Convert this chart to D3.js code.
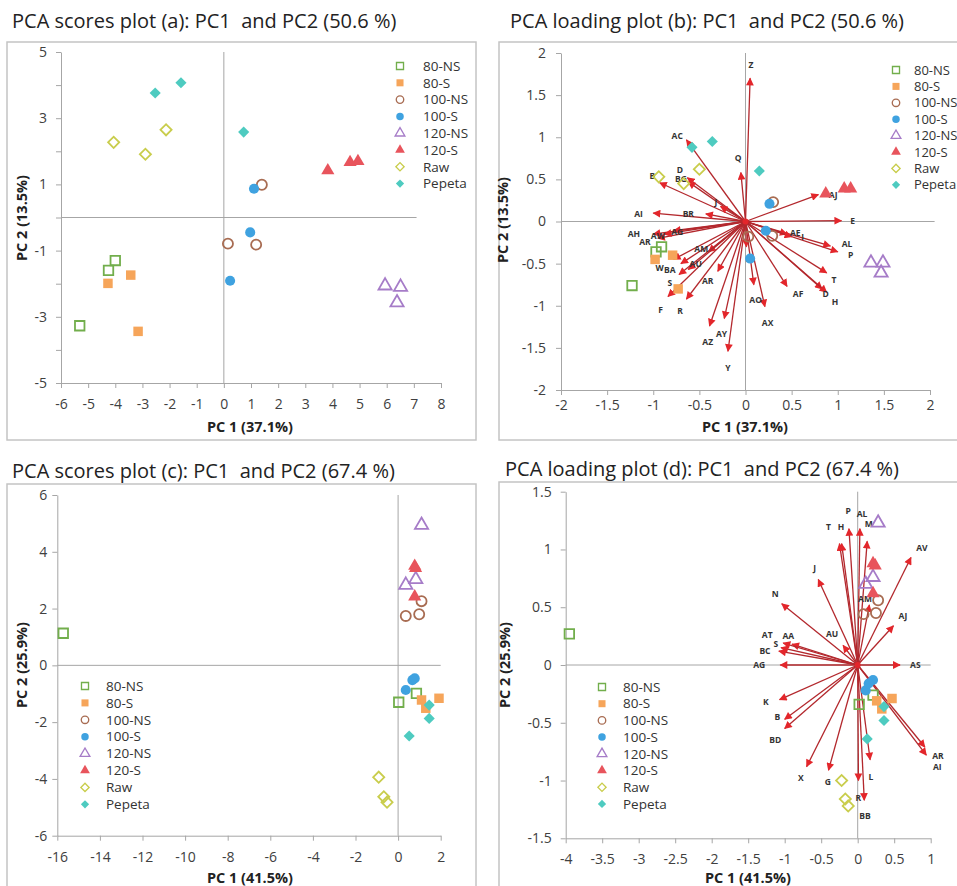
<!DOCTYPE html>
<html>
<head>
<meta charset="utf-8">
<script src="https://cdn.jsdelivr.net/npm/d3@7"></script>
<style>
  body { margin: 0; background: #fff; }
  text { font-family: "Open Sans", sans-serif; }
</style>
</head>
<body>
<svg id="chart" width="957" height="886"></svg>
<script>
// sample groups, shared by all four panels
const groups = ["80-NS", "80-S", "100-NS", "100-S", "120-NS", "120-S", "Raw", "Pepeta"];
const groupColors = ["#72ae4c", "#f6a55a", "#a86c52", "#3fa2e0", "#a67cc8", "#e8545c", "#c9cd4c", "#4ecbc0"];
const groupShapes = ["square", "square", "circle", "circle", "triangle", "triangle", "diamond", "diamond"];
const groupFilled = [false, true, false, true, false, true, false, true];

// (a) scores, PC1 vs PC2
const scoresA = [
  ["80-NS", -4.0, -1.3], ["80-NS", -4.25, -1.6], ["80-NS", -5.31, -3.27],
  ["80-S", -3.43, -1.74], ["80-S", -4.27, -1.99], ["80-S", -3.16, -3.44],
  ["100-NS", 1.40, 0.99], ["100-NS", 0.15, -0.79], ["100-NS", 1.19, -0.82],
  ["100-S", 1.11, 0.87], ["100-S", 0.97, -0.45], ["100-S", 0.23, -1.91],
  ["120-NS", 5.94, -2.06], ["120-NS", 6.51, -2.10], ["120-NS", 6.38, -2.57],
  ["120-S", 3.83, 1.42], ["120-S", 4.65, 1.67], ["120-S", 4.94, 1.70],
  ["Raw", -4.06, 2.27], ["Raw", -2.89, 1.91], ["Raw", -2.13, 2.65],
  ["Pepeta", -2.53, 3.76], ["Pepeta", -1.58, 4.07], ["Pepeta", 0.73, 2.58]
];

// (b) scaled scores
const scoresB = [
  ["80-NS", -0.91, -0.30], ["80-NS", -0.97, -0.36], ["80-NS", -1.23, -0.76],
  ["80-S", -0.79, -0.40], ["80-S", -0.98, -0.45], ["80-S", -0.73, -0.80],
  ["100-NS", 0.30, 0.23], ["100-NS", 0.03, -0.18], ["100-NS", 0.29, -0.17],
  ["100-S", 0.26, 0.21], ["100-S", 0.22, -0.11], ["100-S", 0.05, -0.44],
  ["120-NS", 1.36, -0.49], ["120-NS", 1.49, -0.49], ["120-NS", 1.47, -0.61],
  ["120-S", 0.87, 0.33], ["120-S", 1.07, 0.39], ["120-S", 1.14, 0.39],
  ["Raw", -0.94, 0.53], ["Raw", -0.67, 0.45], ["Raw", -0.50, 0.62],
  ["Pepeta", -0.58, 0.88], ["Pepeta", -0.36, 0.95], ["Pepeta", 0.15, 0.60]
];

// (b) loadings: variable, tip x, tip y, label x, label y
const loadingsB = [
  ["Z", 0.05, 1.70, 0.06, 1.86], ["Q", -0.05, 0.58, -0.08, 0.75],
  ["AC", -0.64, 0.97, -0.74, 1.02], ["B", -0.93, 0.46, -1.01, 0.54],
  ["D", -0.63, 0.52, -0.71, 0.61], ["BG", -0.62, 0.47, -0.70, 0.50],
  ["J", -0.27, 0.18, -0.32, 0.23], ["AI", -1.00, 0.10, -1.16, 0.09],
  ["BR", -0.43, 0.09, -0.62, 0.09], ["AH", -1.00, -0.15, -1.21, -0.15],
  ["AR", -0.95, -0.20, -1.09, -0.24], ["AW", -0.88, -0.15, -0.95, -0.17],
  ["AG", -0.78, -0.11, -0.74, -0.12], ["AM", -0.40, -0.36, -0.48, -0.33],
  ["W", -0.78, -0.45, -0.93, -0.55], ["BA", -0.70, -0.50, -0.82, -0.58],
  ["AU", -0.62, -0.57, -0.54, -0.50], ["AR", -0.30, -0.59, -0.41, -0.71],
  ["S", -0.72, -0.63, -0.82, -0.73], ["F", -0.84, -0.89, -0.92, -1.05],
  ["R", -0.64, -0.92, -0.71, -1.06], ["AZ", -0.39, -1.24, -0.41, -1.43],
  ["AY", -0.23, -1.15, -0.26, -1.33], ["Y", -0.19, -1.54, -0.19, -1.74],
  ["A", 0.01, -0.30, 0.04, -0.45], ["AO", 0.09, -0.75, 0.11, -0.93],
  ["AX", 0.21, -1.01, 0.24, -1.21], ["AF", 0.45, -0.77, 0.57, -0.86],
  ["D", 0.83, -0.80, 0.87, -0.86], ["H", 0.88, -0.84, 0.97, -0.95],
  ["T", 0.88, -0.61, 0.96, -0.69], ["AL", 1.00, -0.36, 1.10, -0.27],
  ["P", 0.92, -0.29, 1.14, -0.40], ["AE", 0.45, -0.15, 0.54, -0.14],
  ["I", 0.50, -0.18, 0.62, -0.18], ["E", 1.04, 0.01, 1.16, 0.0],
  ["AJ", 0.79, 0.32, 0.95, 0.32]
];

// (c) scores
const scoresC = [
  ["80-NS", -15.72, 1.13], ["80-NS", 0.03, -1.30], ["80-NS", 0.86, -0.99],
  ["80-S", 1.10, -1.22], ["80-S", 1.92, -1.16], ["80-S", 1.30, -1.51],
  ["100-NS", 0.36, 1.74], ["100-NS", 0.99, 1.80], ["100-NS", 1.10, 2.26],
  ["100-S", 0.36, -0.87], ["100-S", 0.67, -0.52], ["100-S", 0.78, -0.46],
  ["120-NS", 1.10, 4.94], ["120-NS", 0.36, 2.83], ["120-NS", 0.83, 3.03],
  ["120-S", 0.78, 3.50], ["120-S", 0.82, 3.42], ["120-S", 0.78, 2.42],
  ["Raw", -0.91, -3.94], ["Raw", -0.67, -4.63], ["Raw", -0.52, -4.82],
  ["Pepeta", 0.52, -2.49], ["Pepeta", 1.46, -1.87], ["Pepeta", 1.46, -1.40]
];

// (d) scaled scores
const scoresD = [
  ["80-NS", -3.95, 0.27], ["80-NS", 0.02, -0.34], ["80-NS", 0.21, -0.26],
  ["80-S", 0.26, -0.31], ["80-S", 0.47, -0.29], ["80-S", 0.33, -0.38],
  ["100-NS", 0.25, 0.45], ["100-NS", 0.08, 0.44], ["100-NS", 0.28, 0.56],
  ["100-S", 0.21, -0.13], ["100-S", 0.11, -0.22], ["100-S", 0.15, -0.16],
  ["120-NS", 0.28, 1.23], ["120-NS", 0.11, 0.70], ["120-NS", 0.21, 0.76],
  ["120-S", 0.21, 0.88], ["120-S", 0.24, 0.86], ["120-S", 0.21, 0.62],
  ["Raw", -0.22, -1.00], ["Raw", -0.17, -1.16], ["Raw", -0.13, -1.22],
  ["Pepeta", 0.13, -0.64], ["Pepeta", 0.36, -0.36], ["Pepeta", 0.36, -0.48]
];

// (d) loadings: variable, tip x, tip y, label x, label y
const loadingsD = [
  ["P", -0.12, 1.18, -0.13, 1.33], ["AL", 0.03, 1.18, 0.06, 1.31],
  ["M", 0.13, 1.07, 0.15, 1.22], ["T", -0.25, 1.05, -0.40, 1.19],
  ["H", -0.22, 1.05, -0.23, 1.19], ["J", -0.54, 0.74, -0.59, 0.84],
  ["N", -1.04, 0.53, -1.13, 0.61], ["AU", -0.20, 0.17, -0.35, 0.27],
  ["AA", -0.90, 0.18, -0.95, 0.25], ["AT", -1.02, 0.19, -1.24, 0.26],
  ["S", -1.05, 0.15, -1.12, 0.18], ["BC", -1.08, 0.12, -1.27, 0.12],
  ["AG", -1.06, 0.0, -1.35, 0.0], ["AS", 0.58, 0.0, 0.79, 0.0],
  ["AJ", 0.49, 0.34, 0.62, 0.42], ["AV", 0.73, 0.93, 0.88, 1.01],
  ["AM", 0.16, 0.52, 0.10, 0.57], ["K", -1.07, -0.30, -1.26, -0.32],
  ["B", -1.00, -0.47, -1.10, -0.45], ["BD", -1.00, -0.55, -1.13, -0.65],
  ["X", -0.70, -0.88, -0.78, -0.98], ["G", -0.40, -0.91, -0.41, -1.01],
  ["R", 0.01, -1.00, 0.01, -1.15], ["BB", 0.09, -1.17, 0.10, -1.31],
  ["L", 0.17, -0.82, 0.18, -0.97], ["AR", 0.92, -0.71, 1.10, -0.79],
  ["AI", 0.94, -0.78, 1.09, -0.88]
];

// axis ticks
const ticksAx = d3.range(-6, 9, 1);
const ticksAy = d3.range(-5, 6, 1);
const labelsAy = [-5, -3, -1, 1, 3, 5];
const ticksBx = d3.range(-2, 2.01, 0.5);
const ticksBy = d3.range(-2, 2.01, 0.5);
const ticksCx = d3.range(-16, 3, 2);
const ticksCy = d3.range(-6, 7, 2);
const ticksDx = d3.range(-4, 1.01, 0.5);
const ticksDy = d3.range(-1.5, 1.51, 0.5);

const svg = d3.select("#chart");

// arrow head for loading vectors
svg.append("defs").append("marker")
    .attr("id", "head")
    .attr("viewBox", "0 0 10 10")
    .attr("refX", 9).attr("refY", 5)
    .attr("markerWidth", 6.5).attr("markerHeight", 6)
    .attr("orient", "auto")
  .append("path")
    .attr("d", "M0,0L10,5L0,10z")
    .attr("fill", "#e3262b");

function symbolPath(i, scale) {
    let shape = groupShapes[i];
    let type = {square: d3.symbolSquare, circle: d3.symbolCircle, triangle: d3.symbolTriangle, diamond: d3.symbolSquare}[shape];
    let size = {square: 90, circle: 80, triangle: 75, diamond: 62}[shape] * scale;
    return d3.symbol().type(type).size(size)();
}

function drawMarker(g, gi, px, py, scale) {
    let hollow = !groupFilled[gi];
    g.append("path")
        .attr("d", symbolPath(gi, scale))
        .attr("transform", "translate(" + px + "," + py + ")" + (groupShapes[gi] == "diamond" ? " rotate(45)" : ""))
        .attr("fill", hollow ? "none" : groupColors[gi])
        .attr("stroke", groupColors[gi])
        .attr("stroke-width", hollow ? 1.8 * Math.sqrt(scale) : 0);
}

const fmt = d => String(Math.round(d * 10) / 10);

function drawPanel(p) {
    let g = svg.append("g");

    //frame
    g.append("rect")
        .attr("x", p.frame[0]).attr("y", p.frame[1])
        .attr("width", p.frame[2]).attr("height", p.frame[3])
        .attr("fill", "none").attr("stroke", "#c4c4c4").attr("stroke-width", 1.5);

    g.append("text")
        .attr("x", p.titlePos[0]).attr("y", p.titlePos[1])
        .style("font-size", "20px").style("fill", "#222").style("white-space", "pre")
        .text(p.title);

    let x = d3.scaleLinear().domain(p.xDomain).range(p.xRange);
    let y = d3.scaleLinear().domain(p.yDomain).range(p.yRange);

    //zero lines
    g.append("line")
        .attr("x1", x(p.xDomain[0])).attr("x2", x(p.hEnd))
        .attr("y1", y(0)).attr("y2", y(0))
        .attr("stroke", "#a6a6a6");
    g.append("line")
        .attr("x1", x(0)).attr("x2", x(0))
        .attr("y1", y(p.yDomain[0])).attr("y2", y(p.yDomain[1]))
        .attr("stroke", "#a6a6a6");

    //x-axis
    let xa = g.append("g")
        .attr("transform", "translate(0," + p.yRange[0] + ")")
        .call(d3.axisBottom(x).tickValues(p.xTicks).tickFormat(fmt).tickSize(5).tickSizeOuter(0).tickPadding(p.xPad));
    //y-axis
    let ya = g.append("g")
        .attr("transform", "translate(" + p.xRange[0] + ",0)")
        .call(d3.axisLeft(y).tickValues(p.yTicks)
            .tickFormat(d => (p.yLabels ? (p.yLabels.includes(d) ? fmt(d) : "") : fmt(d)))
            .tickSize(5).tickSizeOuter(0).tickPadding(p.yPad));
    [xa, ya].forEach(a => {
        a.select(".domain").attr("stroke", "#a6a6a6");
        a.selectAll(".tick line").attr("stroke", "#a6a6a6");
        a.selectAll(".tick text").style("font-size", "14px").style("fill", "#404040")
            .style("font-family", "'Open Sans', sans-serif");
    });

    //axis titles
    g.append("text")
        .attr("x", p.xTitle[0]).attr("y", p.xTitle[1])
        .attr("text-anchor", "middle")
        .style("font-size", "14.5px").style("font-weight", "bold").style("fill", "#222")
        .text(p.xLabel);
    g.append("text")
        .attr("transform", "translate(" + p.yTitle[0] + "," + p.yTitle[1] + ") rotate(-90)")
        .attr("text-anchor", "middle")
        .style("font-size", "14.5px").style("font-weight", "bold").style("fill", "#222")
        .text(p.yLabel);

    //loading vectors
    if (p.loadings) {
        g.selectAll(".vec").data(p.loadings).join("line")
            .attr("x1", x(0)).attr("y1", y(0))
            .attr("x2", d => x(d[1])).attr("y2", d => y(d[2]))
            .attr("stroke", "#b3282d").attr("stroke-width", 1.3)
            .attr("marker-end", "url(#head)");
        g.selectAll(".vlab").data(p.loadings).join("text")
            .attr("x", d => x(d[3])).attr("y", d => y(d[4]))
            .attr("text-anchor", "middle").attr("dy", "0.35em")
            .style("font-size", "8.5px").style("font-weight", "bold").style("fill", "#333")
            .text(d => d[0]);
        g.append("circle").attr("cx", x(0)).attr("cy", y(0)).attr("r", 3).attr("fill", "#e3262b");
    }

    //scores
    p.scores.forEach(d => drawMarker(g, groups.indexOf(d[0]), x(d[1]), y(d[2]), 1));

    //legend
    if (p.legendBox) {
        g.append("rect").attr("x", p.legendBox[0]).attr("y", p.legendBox[1])
            .attr("width", p.legendBox[2]).attr("height", p.legendBox[3]).attr("fill", "#fff");
    }
    groups.forEach((name, i) => {
        let ly = p.legend[1] + i * p.legend[3];
        drawMarker(g, i, p.legend[0], ly, 0.55);
        g.append("text")
            .attr("x", p.legend[2]).attr("y", ly).attr("dy", "0.35em")
            .style("font-size", p.legendFont).style("fill", "#333")
            .text(name);
    });
}

drawPanel({
    frame: [7, 42, 469, 398], title: "PCA scores plot (a): PC1  and PC2 (50.6 %)", titlePos: [12, 28],
    xDomain: [-6, 8], xRange: [61, 441], yDomain: [-5, 5], yRange: [383, 52], hEnd: 7.1,
    xTicks: ticksAx, yTicks: ticksAy, yLabels: labelsAy, xPad: 11, yPad: 9,
    xLabel: "PC 1 (37.1%)", yLabel: "PC 2 (13.5%)", xTitle: [250, 432], yTitle: [27, 218],
    scores: scoresA, legend: [400, 66, 423, 16.8], legendFont: "13.5px"
});

drawPanel({
    frame: [499, 42, 470, 398], title: "PCA loading plot (b): PC1  and PC2 (50.6 %)", titlePos: [510, 28],
    xDomain: [-2, 2], xRange: [561, 930], yDomain: [-2, 2], yRange: [390, 53], hEnd: 2.05,
    xTicks: ticksBx, yTicks: ticksBy, xPad: 5, yPad: 10,
    xLabel: "PC 1 (37.1%)", yLabel: "PC 2 (13.5%)", xTitle: [745, 432], yTitle: [508, 220],
    scores: scoresB, loadings: loadingsB,
    legendBox: [886, 60, 80, 133], legend: [896, 70, 914, 16.4], legendFont: "13px"
});

drawPanel({
    frame: [7, 484, 469, 420], title: "PCA scores plot (c): PC1  and PC2 (67.4 %)", titlePos: [12, 478],
    xDomain: [-16, 2], xRange: [57.3, 440.7], yDomain: [-6, 6], yRange: [835.7, 495], hEnd: 2,
    xTicks: ticksCx, yTicks: ticksCy, xPad: 11, yPad: 5,
    xLabel: "PC 1 (41.5%)", yLabel: "PC 2 (25.9%)", xTitle: [250, 883], yTitle: [27, 665],
    scores: scoresC, legend: [85, 686, 106, 16.9], legendFont: "13.5px"
});

drawPanel({
    frame: [499, 482, 470, 422], title: "PCA loading plot (d): PC1  and PC2 (67.4 %)", titlePos: [505, 476],
    xDomain: [-4, 1], xRange: [565.7, 930.7], yDomain: [-1.5, 1.5], yRange: [838.3, 491.7], hEnd: 1,
    xTicks: ticksDx, yTicks: ticksDy, xPad: 11, yPad: 9,
    xLabel: "PC 1 (41.5%)", yLabel: "PC 2 (25.9%)", xTitle: [748, 883], yTitle: [510, 665],
    scores: scoresD, loadings: loadingsD,
    legend: [602, 687, 623, 16.7], legendFont: "13.5px"
});
</script>
</body>
</html>
